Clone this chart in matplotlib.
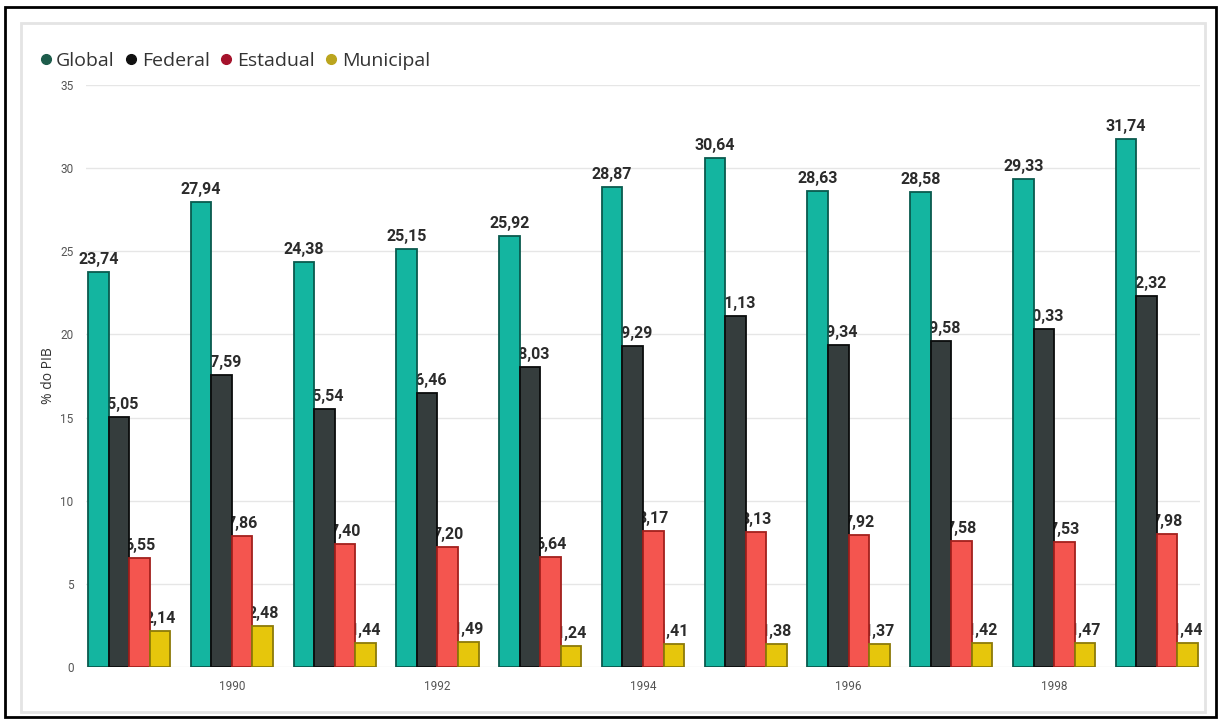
import matplotlib.pyplot as plt
from matplotlib.patches import Rectangle
from matplotlib.lines import Line2D
import numpy as np

# ------------------------------------------------------------------ #
# data: tax burden by level of government (% of GDP)
years = [1989, 1990, 1991, 1992, 1993, 1994, 1995, 1996, 1997, 1998, 1999]
tick_years = [1990, 1992, 1994, 1996, 1998]
series_names = ["Global", "Federal", "Estadual", "Municipal"]

global_vals = [23.74, 27.94, 24.38, 25.15, 25.92, 28.87, 30.64, 28.63, 28.58, 29.33, 31.74]
federal_vals = [15.05, 17.59, 15.54, 16.46, 18.03, 19.29, 21.13, 19.34, 19.58, 20.33, 22.32]
estadual_vals = [6.55, 7.86, 7.40, 7.20, 6.64, 8.17, 8.13, 7.92, 7.58, 7.53, 7.98]
municipal_vals = [2.14, 2.48, 1.44, 1.49, 1.24, 1.41, 1.38, 1.37, 1.42, 1.47, 1.44]

# ------------------------------------------------------------------ #
# styles
bar_colors = ["#14b5a0", "#353d3d", "#f4554f", "#e6c60c"]
edge_colors = ["#0a5a4e", "#0a0c0c", "#a3201d", "#8c7a08"]
legend_colors = ["#1d5c4b", "#111111", "#a5122b", "#bba51e"]

label_font = ["Roboto", "DejaVu Sans"]
ui_font = ["Open Sans", "DejaVu Sans"]

W, H = 1219, 720
fig = plt.figure(figsize=(W / 100, H / 100), dpi=100)
fig.patch.set_facecolor("white")

# outer black frame and inner light panel
fig.patches.append(Rectangle((5 / W, 3 / H), 1211 / W, 710 / H, transform=fig.transFigure,
                             fill=False, edgecolor="black", linewidth=2, zorder=-2))
fig.patches.append(Rectangle((21 / W, 8 / H), 1184 / W, 689 / H, transform=fig.transFigure,
                             facecolor="white", edgecolor="#e4e4e4", linewidth=2, zorder=-1))

ax = fig.add_axes([86 / W, 53 / H, 1114 / W, 582 / H])
ax.set_zorder(2)
ax.set_facecolor("none")

x = np.arange(len(years))
width = 0.2
all_vals = [global_vals, federal_vals, estadual_vals, municipal_vals]

for i, vals in enumerate(all_vals):
    offs = x + (i - 1.5) * width
    ax.bar(offs, vals, width=width, color=bar_colors[i], edgecolor=edge_colors[i],
           linewidth=1.3, zorder=3)
    # labels sit under the bars so neighbouring bars may cover them
    for xo, v in zip(offs, vals):
        ax.text(xo, v + 0.3, f"{v:.2f}".replace(".", ","), ha="center", va="bottom",
                fontsize=11.5, fontweight="bold", color="#2b2b2b", family=label_font, zorder=2)

ax.set_ylim(0, 35)
ax.set_xlim(-0.42, len(years) - 1 + 0.42)
ax.set_yticks(range(0, 36, 5))
ax.set_xticks([years.index(y) for y in tick_years])
ax.set_xticklabels([str(y) for y in tick_years])
ax.grid(axis="y", color="#e6e6e6", linewidth=1, zorder=0)
ax.set_axisbelow(True)
ax.tick_params(length=0, labelsize=8.5, labelcolor="#555555", pad=9)
ax.tick_params(axis="y", pad=9)
for lab in ax.get_xticklabels() + ax.get_yticklabels():
    lab.set_family(label_font)
for s in ax.spines.values():
    s.set_visible(False)

ax.set_ylabel("% do PIB", fontsize=10, color="#333333", family=ui_font, labelpad=3)

handles = [Line2D([0], [0], marker="o", linestyle="none", markersize=7,
                  markerfacecolor=c, markeredgecolor=c) for c in legend_colors]
fig.legend(handles, series_names, loc="upper left", bbox_to_anchor=(28 / W, 1 - 44 / H),
           ncol=4, frameon=False, handletextpad=0.05, columnspacing=0.35,
           handlelength=1.0, borderaxespad=0,
           prop={"family": ui_font, "size": 14})
for t in fig.legends[0].get_texts():
    t.set_color("#333333")

fig.savefig("out.png", dpi=100, facecolor="white")
